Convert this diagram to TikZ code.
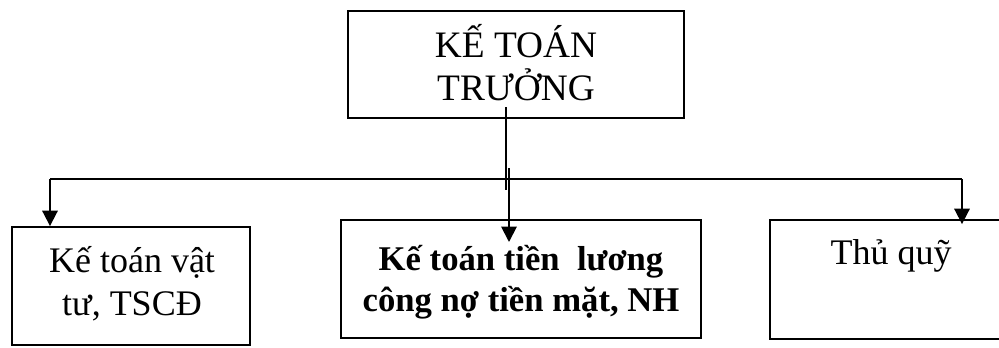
\documentclass[tikz,border=0pt]{standalone}
\usepackage{fontspec}
\setmainfont{Liberation Serif}
\usetikzlibrary{arrows.meta}
\begin{document}
\begin{tikzpicture}[x=0.75pt,y=-0.75pt,
  box/.style={draw, line width=1.4pt, rectangle, inner sep=0pt},
  conn/.style={line width=1.4pt},
  arrowline/.style={line width=1.4pt, -{Triangle[length=11.5pt,width=11.5pt]}},
  txt/.style={anchor=base, inner sep=0pt, font=\fontsize{27pt}{32pt}\selectfont},
  toptxt/.style={txt, font=\fontsize{28pt}{32pt}\selectfont},
  boldtxt/.style={txt, font=\fontsize{26pt}{32pt}\selectfont\bfseries}]
\useasboundingbox (0,0) rectangle (999,347);

% boxes
\node[box, line width=1.9pt, minimum width=252pt, minimum height=80.25pt] (top) at (516,64.5) {};
\node[box, minimum width=178.5pt, minimum height=88.5pt] (left) at (131,286) {};
\node[box, minimum width=270pt, minimum height=88.5pt] (mid) at (521,279) {};
\node[box, minimum width=181.5pt, minimum height=89.25pt] (right) at (891,279.5) {};

% texts
\node[toptxt] (t1) at (516,57) {KẾ TOÁN};
\node[toptxt] (t2) at (516,100) {TRƯỞNG};
\node[txt] (l1) at (132,272) {Kế toán vật};
\node[txt] (l2) at (132,315) {tư, TSCĐ};
\node[boldtxt] (m1) at (521,270) {Kế toán tiền\ \ lương};
\node[boldtxt] (m2) at (521,311) {công nợ tiền mặt, NH};
\node[txt] (r1) at (891,264) {Thủ quỹ};

% connectors
\coordinate (stemTop) at (506,107);
\coordinate (stemBot) at (506,190);
\coordinate (hL) at (50,179);
\coordinate (hR) at (962,179);
\coordinate (midTop) at (509,168);
\coordinate (midTip) at (509,242);

\draw[conn] (stemTop) -- (stemBot);
\draw[conn] (hL) -- (hR);
\draw[arrowline] (hL) -- (left.north -| hL);
\draw[arrowline] (hR) -- ([yshift=-3.75pt]right.north -| hR);
\draw[arrowline] (midTop) -- (midTip);
\end{tikzpicture}
\end{document}
